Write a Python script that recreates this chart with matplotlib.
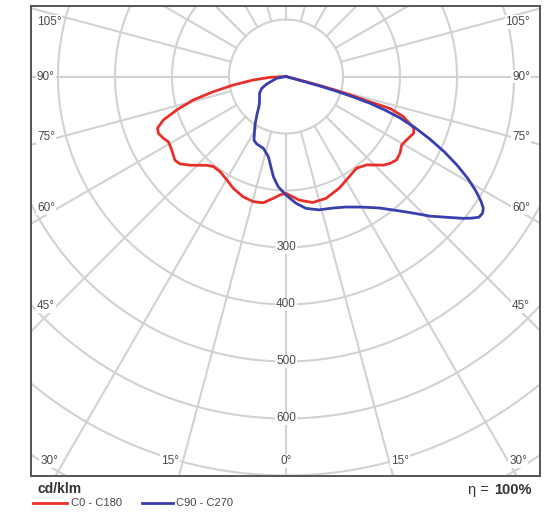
import numpy as np
import matplotlib.pyplot as plt
from matplotlib.lines import Line2D

plt.rcParams['font.family'] = ['Liberation Sans', 'DejaVu Sans']

# luminous intensity, cd/klm, against gamma angle (deg) from nadir
c0_gamma = [0, 6.1, 11.9, 18.2, 25.5, 30.4, 37.6, 42.4, 47.7, 50.2, 53.0, 56.0,
            59.4, 62.2, 66.0, 68.0, 71.2, 72.9, 73.2, 73.9, 74.6, 75.1, 75.5, 90]
c0_cd = [205, 218, 226, 225, 217, 210, 203, 210, 231, 238, 243, 241,
         236, 239, 245, 242, 217, 191, 154, 122, 91, 60, 31, 0]

c180_gamma = [0, 2.9, 6.0, 10.2, 14.6, 19.6, 25.2, 29.8, 34.7, 38.9, 41.8, 47.2,
              50.5, 53.0, 55.9, 58.7, 61.0, 63.3, 66.0, 68.1, 70.5, 73.0, 75.8,
              78.2, 80.8, 83.9, 87.0, 90]
c180_cd = [205, 208, 215, 225, 227, 224, 217, 209, 203, 203, 209, 229,
           241, 244, 240, 237, 236, 241, 245, 243, 228, 200, 168,
           130, 94, 58, 28, 0]

c90_gamma = [0, 4.5, 8.6, 13.9, 19.6, 24.7, 30.5, 35.4, 39.4, 42.9, 45.9, 48.8,
             51.3, 52.7, 53.9, 55.2, 56.3, 57.4, 58.9, 60.7, 62.6, 64.6, 66.5,
             68.4, 70.0, 71.2, 72.3, 73.1, 73.8, 74.3, 74.5, 90]
c90_cd = [208, 223, 234, 241, 245, 252, 266, 283, 304, 327, 352, 375,
          398, 410, 419, 420, 416, 406, 389, 366, 338, 307, 275,
          243, 213, 185, 155, 123, 91, 60, 31, 0]

c270_gamma = [0, 4.0, 7.2, 9.6, 12.4, 17.5, 23.5, 26.7, 29.6, 32.6, 38.0, 41.1,
              44.9, 50.6, 57.8, 64.1, 68.8, 79.0, 90]
c270_cd = [208, 194, 177, 160, 144, 132, 129, 125, 112, 101, 82, 73,
           66, 60, 55, 47, 36, 17, 0]

rings = [100, 200, 300, 400, 500, 600, 700, 800, 900]
ring_labels = [300, 400, 500, 600]


def to_xy(gamma, cd, side):
    g = np.radians(np.asarray(gamma, dtype=float))
    cd = np.asarray(cd, dtype=float)
    return side * cd * np.sin(g), -cd * np.cos(g)


def half_pair(g_left, cd_left, g_right, cd_right):
    xl, yl = to_xy(g_left, cd_left, -1)
    xr, yr = to_xy(g_right, cd_right, 1)
    return np.concatenate((xl[::-1], xr)), np.concatenate((yl[::-1], yr))


fig = plt.figure(figsize=(5.58, 5.16), dpi=100)
ax = fig.add_axes([30.5 / 558, 40 / 516, 509.5 / 558, 470 / 516])
ax.set_xlim(-448.2, 445.6)
ax.set_ylim(-700.9, 123.7)
ax.set_xticks([])
ax.set_yticks([])
for s in ax.spines.values():
    s.set_color('#555555')
    s.set_linewidth(1.4)

grid_col = '#d2d2d2'
t = np.linspace(0, 2 * np.pi, 721)
for r in rings:
    ax.plot(r * np.cos(t), r * np.sin(t), color=grid_col, lw=1.5, zorder=1)
for a in range(0, 360, 15):
    ar = np.radians(a)
    ax.plot([100 * np.sin(ar), 1200 * np.sin(ar)], [-100 * np.cos(ar), -1200 * np.cos(ar)],
            color=grid_col, lw=1.5, zorder=1)

x, y = half_pair(c180_gamma, c180_cd, c0_gamma, c0_cd)
ax.plot(x, y, color='#e8302a', lw=2.0, zorder=3, solid_joinstyle='round')
x, y = half_pair(c270_gamma, c270_cd, c90_gamma, c90_cd)
ax.plot(x, y, color='#3a3fae', lw=2.0, zorder=4, solid_joinstyle='round')

box = dict(facecolor='white', edgecolor='none', pad=0.6)
lab_style = dict(fontsize=8.5, color='#4a4a4a', bbox=box, zorder=5)
side_y = {105: 95.6, 90: 0, 75: -106, 60: -231, 45: -403}
for a, yy in side_y.items():
    ax.text(-436.8, yy, f'{a}°', ha='left', va='center', **lab_style)
    ax.text(428, yy, f'{a}°', ha='right', va='center', **lab_style)
ax.text(-431, -675, '30°', ha='left', va='center', **lab_style)
ax.text(423, -675, '30°', ha='right', va='center', **lab_style)
ax.text(-203.5, -675, '15°', ha='center', va='center', **lab_style)
ax.text(200, -675, '15°', ha='center', va='center', **lab_style)
ax.text(0, -675, '0°', ha='center', va='center', **lab_style)
for r in ring_labels:
    ax.text(0, -r, str(r), ha='center', va='center', **lab_style)

fig.text(38 / 558, 1 - 489 / 516, 'cd/klm', fontsize=10, fontweight='bold',
         color='#333333', ha='left', va='center')
fig.text(493 / 558, 1 - 490 / 516, 'η = ', fontsize=10.5, color='#333333',
         ha='right', va='center')
fig.text(494 / 558, 1 - 490 / 516, '100%', fontsize=10.5, fontweight='bold',
         color='#333333', ha='left', va='center')

ly = 1 - 502.5 / 516
fig.add_artist(Line2D([33 / 558, 67 / 558], [ly, ly], color='#e8302a', lw=2.0))
fig.text(71 / 558, ly, 'C0 - C180', fontsize=8, color='#444444', ha='left', va='center')
fig.add_artist(Line2D([141.7 / 558, 173.3 / 558], [ly, ly], color='#3a3fae', lw=2.0))
fig.text(176.5 / 558, ly, 'C90 - C270', fontsize=8, color='#444444', ha='left', va='center')

fig.savefig('out.png', dpi=100, facecolor='white')
